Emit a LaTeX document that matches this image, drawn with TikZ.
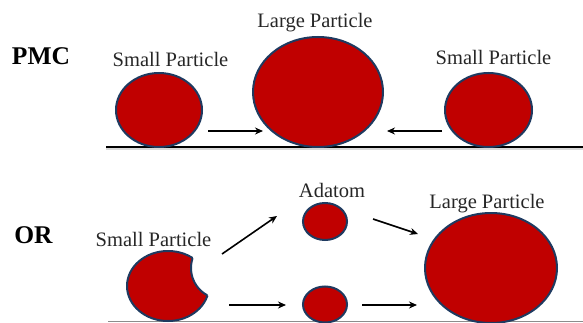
\documentclass[tikz,border=0pt]{standalone}
\usepackage{fontspec}
\setmainfont{Liberation Serif}
\usetikzlibrary{shapes.geometric,arrows.meta}
\definecolor{pred}{HTML}{C00000}
\definecolor{pedge}{HTML}{1F3A60}
\tikzset{
  particle/.style={ellipse, fill=pred, draw=pedge, line width=2pt, inner sep=0pt},
  lbl/.style={anchor=base, font=\fontsize{20.5}{24}\selectfont, text=black!85, inner sep=0pt},
  head/.style={anchor=base, font=\fontsize{25.5}{30}\selectfont\bfseries, inner sep=0pt},
  arr/.style={line width=1.6pt, -{Stealth[length=8pt,width=7pt]}},
}
\begin{document}
\begin{tikzpicture}[x=1pt,y=-1pt]
\useasboundingbox (0,0) rectangle (583,323);
% ---------- PMC ----------
\node[head] (pmc) at (41,65) {PMC};
\draw[black!15, line width=1.5pt] (106,148.8) -- (583,148.8);
\draw[black, line width=1.8pt] (106,147) -- (583,147);
\node[particle, minimum width=86pt, minimum height=74pt] (s1) at (159,110) {};
\node[particle, minimum width=130pt, minimum height=110pt] (L1) at (318,92) {};
\node[particle, minimum width=87pt, minimum height=74pt] (s2) at (488.5,110) {};
\node[lbl] (ts1) at (170.5,67) {Small Particle};
\node[lbl] (tL1) at (315,28) {Large Particle};
\node[lbl] (ts2) at (493.5,65) {Small Particle};
\coordinate (a1s) at (208,131);
\coordinate (a1e) at (263,131);
\coordinate (a2s) at (442,131);
\coordinate (a2e) at (387,131);
\draw[arr] (a1s) -- (a1e);
\draw[arr] (a2s) -- (a2e);
% ---------- OR ----------
\node[head] (or) at (33.5,243) {OR};
\draw[black!45, line width=1pt] (108,321.5) -- (583,321.5);
% bitten small particle
\coordinate (bp) at (168,286);
\coordinate (bite) at (222,268);
\begin{scope}[even odd rule]
  \clip (0,0) rectangle (583,323) (bite) circle[radius=31];
  \filldraw[fill=pred, draw=pedge, line width=2pt] (bp) ellipse[x radius=41, y radius=35];
\end{scope}
\begin{scope}
  \clip (bp) ellipse[x radius=41, y radius=35];
  \draw[draw=pedge, line width=2pt] (bite) circle[radius=31];
\end{scope}
\node[lbl] (ts3) at (153.5,246) {Small Particle};
\node[particle, minimum width=44pt, minimum height=37pt] (ad1) at (325,221.5) {};
\node[particle, minimum width=44pt, minimum height=36pt] (ad2) at (325,304.5) {};
\node[lbl] (tad) at (332,197) {Adatom};
\node[particle, minimum width=132pt, minimum height=110pt] (L2) at (491,268) {};
\node[lbl] (tL2) at (487,208) {Large Particle};
\coordinate (b1s) at (222,254);
\coordinate (b1e) at (277,216);
\coordinate (b2s) at (229,305);
\coordinate (b2e) at (286,305);
\coordinate (b3s) at (373,219);
\coordinate (b3e) at (418,234);
\coordinate (b4s) at (362,305);
\coordinate (b4e) at (417,305);
\draw[arr] (b1s) -- (b1e);
\draw[arr] (b2s) -- (b2e);
\draw[arr] (b3s) -- (b3e);
\draw[arr] (b4s) -- (b4e);
\end{tikzpicture}
\end{document}
